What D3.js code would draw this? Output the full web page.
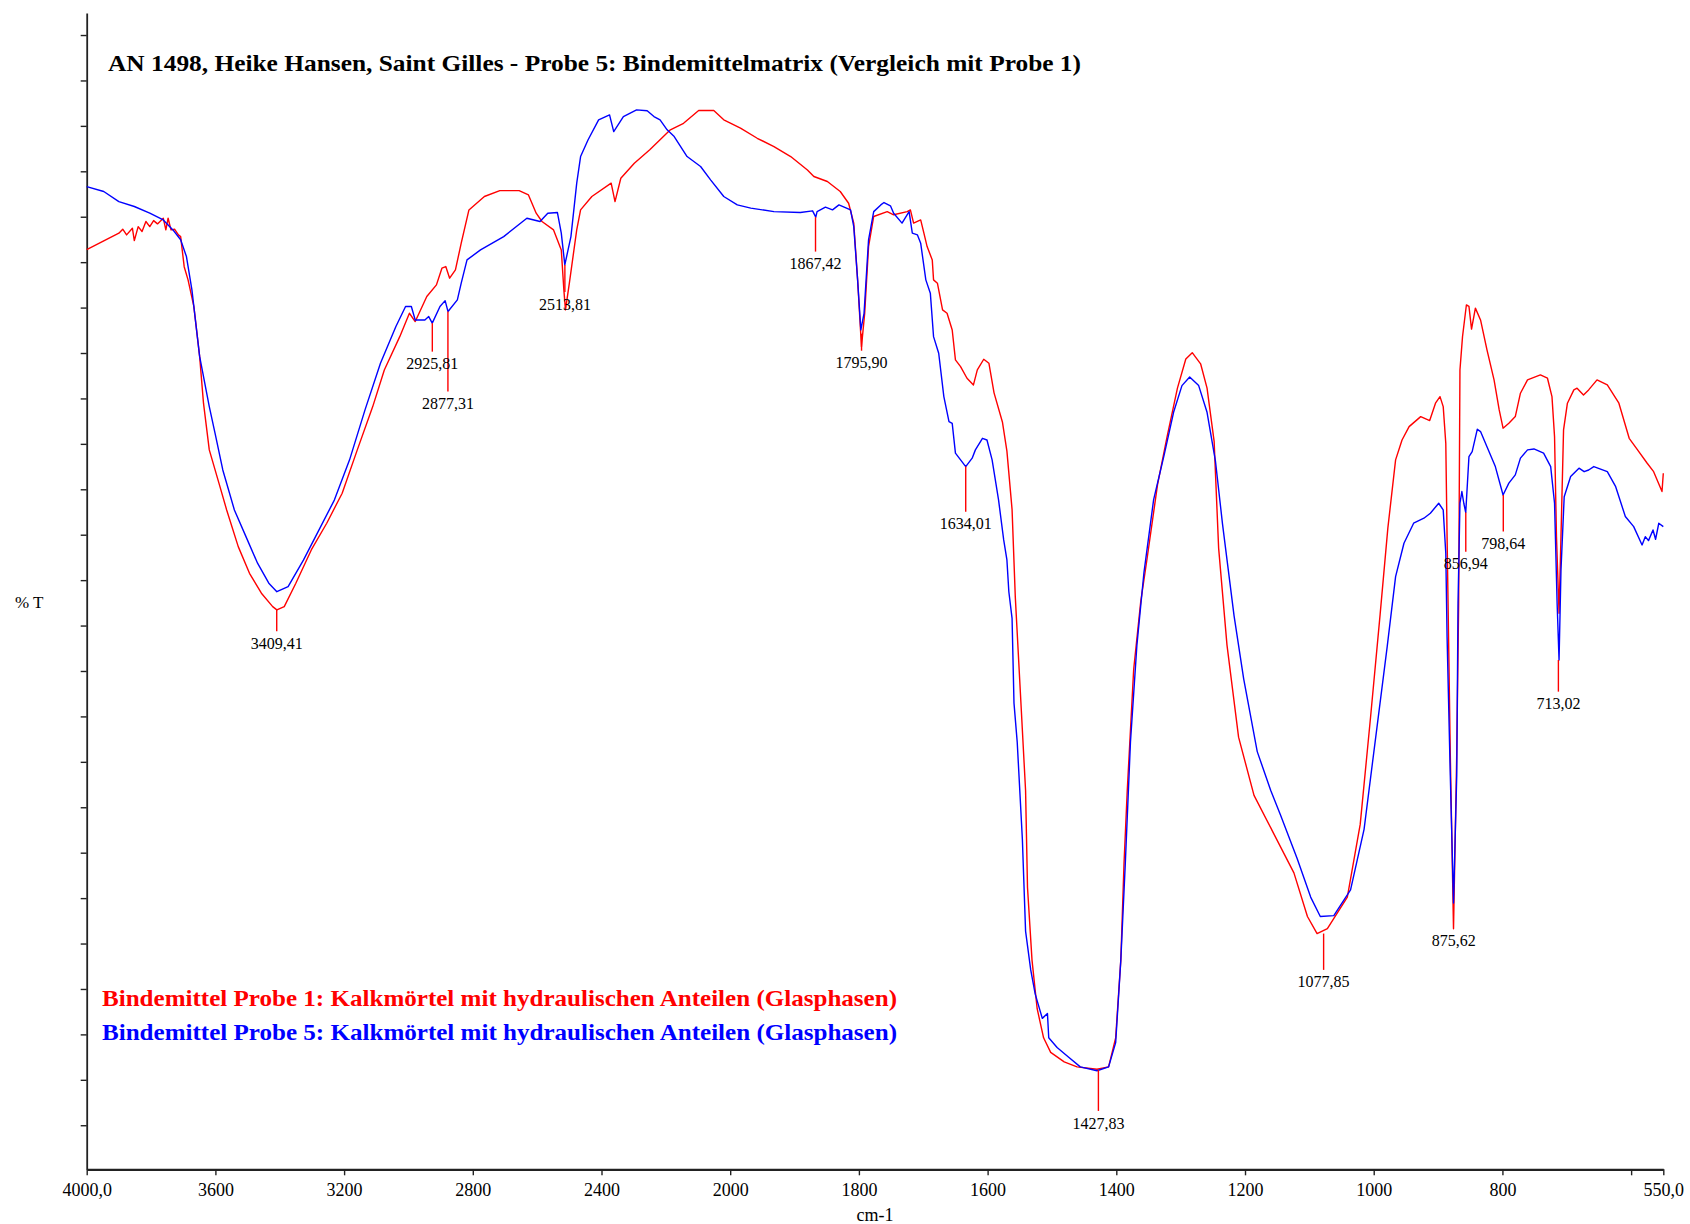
<!DOCTYPE html>
<html>
<head>
<meta charset="utf-8">
<script src="https://cdn.jsdelivr.net/npm/d3@7"></script>
<style>
  html, body { margin: 0; padding: 0; background: #ffffff; }
  svg { display: block; }
</style>
</head>
<body>
<svg id="chart" width="1690" height="1224"></svg>
<script>
// ---------------- DATA ----------------
const titleText = "AN 1498, Heike Hansen, Saint Gilles - Probe 5: Bindemittelmatrix (Vergleich mit Probe 1)";
const legendLabels = [
  "Bindemittel Probe 1: Kalkmörtel mit hydraulischen Anteilen (Glasphasen)",
  "Bindemittel Probe 5: Kalkmörtel mit hydraulischen Anteilen (Glasphasen)"
];
const xAxisTitle = "cm-1";
const yAxisTitle = "% T";

const xTickValues = [4000, 3600, 3200, 2800, 2400, 2000, 1800, 1600, 1400, 1200, 1000, 800, 600, 550];
const xTickLabels = ["4000,0", "3600", "3200", "2800", "2400", "2000", "1800", "1600", "1400", "1200", "1000", "800", "", "550,0"];
const yTickValues = [4, 8, 12, 16, 20, 24, 28, 32, 36, 40, 44, 48, 52, 56, 60, 64, 68, 72, 76, 80, 84, 88, 92, 96, 100];

// Probe 1 (red): [wavenumber cm-1, %T]
const probe1 = [
  [4000,81.1],[3900,82.55],[3888,82.9],[3876,82.4],[3858,82.99],[3852,81.9],[3840,83.13],[3828,82.7],[3816,83.58],[3804,83.13],
  [3792,83.66],[3780,83.37],[3762,83.87],[3754,82.84],[3747,83.87],[3738,82.84],[3727,82.9],[3715,82.4],[3708,82.25],[3697,79.6],
  [3685,78.44],[3667,76.1],[3649,71.7],[3637,67.58],[3619,63.47],[3589,60.54],[3565,58.18],[3529,54.95],[3494,52.6],[3457,50.85],
  [3422,49.67],[3409,49.38],[3386,49.67],[3350,51.73],[3302,54.66],[3254,57.01],[3206,59.65],[3159,63.47],[3111,67.28],[3075,70.51],
  [3027,73.44],[2997,75.5],[2979,74.77],[2967,75.5],[2943,76.97],[2913,78.0],[2896,79.47],[2884,79.61],[2872,78.59],[2854,79.32],
  [2836,81.67],[2812,84.6],[2764,85.78],[2716,86.3],[2656,86.3],[2627,85.92],[2603,84.31],[2585,83.58],[2549,82.84],[2525,81.08],
  [2517,77.56],[2512,75.8],[2500,78.14],[2477,82.84],[2465,84.6],[2430,85.78],[2370,86.96],[2358,85.33],[2340,87.39],[2298,88.71],
  [2250,89.89],[2186,91.65],[2145,92.23],[2098,93.35],[2051,93.35],[2020,92.53],[1984,91.8],[1958,90.91],[1932,90.18],[1906,89.3],
  [1880,88.12],[1870,87.54],[1849,87.1],[1829,86.22],[1816,85.19],[1808,83.44],[1802,78.44],[1796,72.56],[1791,75.5],[1785,81.37],
  [1777,84.02],[1756,84.45],[1746,84.17],[1725,84.45],[1720,84.6],[1715,83.44],[1704,83.72],[1699,82.55],[1694,81.37],[1686,80.2],
  [1684,78.44],[1678,78.15],[1670,75.8],[1663,75.5],[1655,74.03],[1650,71.39],[1642,70.8],[1632,69.78],[1622,69.19],[1616,70.51],
  [1606,71.45],[1598,71.1],[1590,68.49],[1577,65.93],[1570,63.36],[1562,58.23],[1557,50.55],[1549,42.02],[1541,33.48],[1538,24.94],
  [1531,18.54],[1523,14.26],[1513,11.7],[1502,10.42],[1481,9.58],[1461,9.14],[1430,8.93],[1412,9.14],[1401,11.7],[1393,18.54],
  [1388,27.08],[1383,33.48],[1373,44.15],[1362,50.13],[1352,53.97],[1336,60.38],[1321,64.65],[1305,68.91],[1292,71.47],[1282,72.03],
  [1269,71.05],[1259,68.91],[1248,64.22],[1241,54.82],[1228,46.28],[1210,38.17],[1186,33.05],[1155,29.64],[1124,26.22],[1103,22.38],
  [1088,20.88],[1072,21.32],[1041,24.09],[1021,30.49],[1005,39.88],[990,49.01],[978,56.6],[966,62.59],[956,64.34],[945,65.52],
  [927,66.4],[913,66.05],[904,67.58],[897,68.16],[892,67.28],[888,64.06],[886,55.83],[881,36.67],[876,21.3],[871,36.67],
  [868,49.97],[866,70.51],[862,73.44],[856,76.23],[852,76.1],[848,74.1],[842,75.95],[834,74.91],[824,72.28],[813,69.63],
  [805,66.99],[799,65.38],[790,65.81],[780,66.4],[772,68.46],[761,69.63],[741,70.07],[730,69.78],[723,68.16],[719,64.64],
  [716,55.83],[712,49.08],[709,55.83],[705,65.23],[699,67.58],[689,68.75],[684,68.9],[674,68.31],[666,68.75],[653,69.63],
  [637,69.19],[619,67.58],[603,64.49],[590,63.47],[575,62.29],[565,61.55],[552,59.8],[550,61.41]
];

// Probe 5 (blue): [wavenumber cm-1, %T]
const probe5 = [
  [4000,86.65],[3947,86.22],[3900,85.33],[3852,84.9],[3804,84.31],[3762,83.72],[3732,82.84],[3708,81.97],[3690,80.49],[3673,77.56],
  [3649,71.7],[3619,67.28],[3601,64.93],[3577,61.7],[3541,58.18],[3505,55.83],[3469,53.49],[3434,51.73],[3409,50.98],[3374,51.43],
  [3326,53.78],[3278,56.42],[3230,59.07],[3183,62.59],[3135,66.99],[3087,71.1],[3039,74.33],[3009,76.1],[2991,76.1],[2979,74.91],
  [2949,74.91],[2937,75.21],[2926,74.63],[2902,76.1],[2886,76.61],[2877,75.65],[2848,76.68],[2836,78.15],[2818,80.2],[2776,81.08],
  [2704,82.25],[2632,83.87],[2591,83.58],[2567,84.31],[2537,84.37],[2525,82.55],[2514,79.76],[2495,82.25],[2477,86.96],[2465,89.3],
  [2442,90.76],[2409,92.53],[2375,92.97],[2362,91.5],[2332,92.82],[2291,93.41],[2258,93.33],[2237,92.82],[2218,92.53],[2196,91.65],
  [2174,91.06],[2134,89.3],[2092,88.42],[2061,87.25],[2020,85.78],[1989,85.04],[1968,84.76],[1932,84.45],[1891,84.37],[1872,84.52],
  [1867,83.96],[1865,84.45],[1852,84.84],[1841,84.6],[1831,85.04],[1813,84.6],[1808,83.13],[1802,78.44],[1797,74.03],[1792,75.5],
  [1785,81.97],[1777,84.45],[1766,85.04],[1761,85.25],[1751,84.96],[1746,84.31],[1733,83.44],[1722,84.45],[1717,82.55],[1709,82.4],
  [1704,81.67],[1696,78.44],[1689,77.27],[1684,73.44],[1676,71.98],[1668,68.16],[1660,65.96],[1655,65.81],[1650,63.18],[1642,62.59],
  [1634,62.0],[1624,62.74],[1619,63.47],[1608,64.49],[1601,64.34],[1593,62.59],[1583,59.07],[1575,55.54],[1570,53.78],[1567,50.98],
  [1562,48.64],[1559,41.17],[1554,37.75],[1546,29.21],[1541,21.1],[1533,17.68],[1526,15.55],[1515,13.41],[1507,13.84],[1505,11.7],
  [1492,10.85],[1474,9.99],[1456,9.14],[1430,8.8],[1412,9.14],[1401,11.27],[1393,18.54],[1386,27.08],[1378,37.75],[1368,46.28],
  [1357,52.69],[1342,59.09],[1326,62.94],[1311,66.78],[1298,69.13],[1286,69.89],[1272,69.13],[1259,66.78],[1246,62.51],[1235,56.96],
  [1217,48.85],[1202,43.29],[1181,36.9],[1160,33.48],[1145,31.35],[1119,27.49],[1098,24.09],[1083,22.38],[1062,22.46],[1036,24.72],
  [1015,30.06],[995,39.02],[979,46.16],[966,52.31],[953,55.25],[938,57.01],[922,57.45],[912,57.89],[899,58.77],[892,58.18],
  [888,54.37],[886,47.02],[881,34.77],[876,23.57],[871,34.77],[869,49.97],[866,58.77],[863,59.8],[860,58.77],[857,57.95],
  [852,62.88],[847,63.32],[839,65.29],[834,65.08],[824,63.75],[811,62.0],[799,59.5],[790,60.54],[780,61.27],[772,62.74],
  [761,63.47],[751,63.55],[736,63.18],[725,62.0],[719,58.77],[715,49.97],[712,44.97],[709,52.9],[704,59.35],[694,61.12],
  [681,61.86],[673,61.55],[666,61.7],[658,62.0],[637,61.55],[624,60.23],[609,57.6],[596,56.71],[583,55.1],[578,55.83],
  [573,55.48],[566,56.42],[562,55.6],[557,57.01],[550,56.71]
];

// Peak markers
const peakWavenumbers = [3409.41, 2925.81, 2877.31, 2513.81, 1867.42, 1795.90, 1634.01, 1427.83, 1077.85, 875.62, 856.94, 798.64, 713.02];
const peakLabels = ["3409,41", "2925,81", "2877,31", "2513,81", "1867,42", "1795,90", "1634,01", "1427,83", "1077,85", "875,62", "856,94", "798,64", "713,02"];
const peakTop    = [49.38, 74.63, 75.65, 79.76, 83.96, 73.7, 62.0, 8.86, 20.88, 21.3, 57.95, 59.5, 44.97];
const peakBottom = [47.49, 72.12, 68.6, 77.38, 80.93, 72.2, 58.03, 5.26, 17.68, 21.3, 54.51, 56.28, 42.18];

// ---------------- DRAW ----------------
const FONT = "'Liberation Serif', 'Times New Roman', Times, serif";
const svg = d3.select("#chart");

const x = d3.scaleLinear().domain([4000, 2000, 550]).range([86.7, 730.2, 1663.3]);
const y = d3.scaleLinear().domain([0.12, 101.94]).range([1169.3, 13]);

// Axes
const yAxis = d3.axisLeft(y).tickValues(yTickValues).tickFormat("").tickSize(6).tickSizeOuter(0);
const gy = svg.append("g").attr("transform", "translate(86.7,0)").call(yAxis);
gy.select(".domain").attr("stroke", "#222").attr("stroke-width", 1.8);
gy.selectAll(".tick line").attr("stroke", "#222").attr("stroke-width", 1.4);

const xAxis = d3.axisBottom(x).tickValues(xTickValues)
  .tickFormat((d, i) => xTickLabels[i]).tickSize(6).tickSizeOuter(0);
const gx = svg.append("g").attr("transform", "translate(0,1169.3)").call(xAxis);
gx.select(".domain").attr("stroke", "#222").attr("stroke-width", 2.2);
gx.selectAll(".tick line").attr("stroke", "#222").attr("stroke-width", 1.4);
gx.selectAll(".tick text")
  .attr("font-family", FONT).attr("font-size", 18).attr("fill", "#000")
  .attr("y", 14).attr("dy", "0.71em");

// Axis titles
svg.append("text").attr("x", 875).attr("y", 1221).attr("text-anchor", "middle")
  .attr("font-family", FONT).attr("font-size", 18).attr("fill", "#000").text(xAxisTitle);
svg.append("text").attr("x", 15).attr("y", 608).attr("text-anchor", "start")
  .attr("font-family", FONT).attr("font-size", 17).attr("fill", "#000").text(yAxisTitle);

// Title
svg.append("text").attr("x", 108).attr("y", 71)
  .attr("font-family", FONT).attr("font-size", 24).attr("font-weight", "bold").attr("fill", "#000")
  .attr("textLength", 973).attr("lengthAdjust", "spacingAndGlyphs")
  .text(titleText);

// Curves
const line = d3.line().x(d => x(d[0])).y(d => y(d[1]));
svg.append("path").datum(probe1).attr("d", line)
  .attr("fill", "none").attr("stroke", "#ff0000").attr("stroke-width", 1.4).attr("stroke-linejoin", "round");
svg.append("path").datum(probe5).attr("d", line)
  .attr("fill", "none").attr("stroke", "#0000ff").attr("stroke-width", 1.4).attr("stroke-linejoin", "round");

// Peak markers
const peaks = peakWavenumbers.map((w, i) => ({ w, label: peakLabels[i], top: peakTop[i], bottom: peakBottom[i] }));
const pg = svg.append("g");
pg.selectAll("line").data(peaks).join("line")
  .attr("x1", d => x(d.w)).attr("x2", d => x(d.w))
  .attr("y1", d => y(d.top)).attr("y2", d => y(d.bottom))
  .attr("stroke", "#ff0000").attr("stroke-width", 1.4);
pg.selectAll("text").data(peaks).join("text")
  .attr("x", d => x(d.w)).attr("y", d => y(d.bottom) + 12).attr("dy", "0.35em")
  .attr("text-anchor", "middle").attr("font-family", FONT).attr("font-size", 16).attr("fill", "#000")
  .text(d => d.label);

// Legend
const legendColors = ["#ff0000", "#0000ff"];
svg.append("g").selectAll("text").data(legendLabels).join("text")
  .attr("x", 102).attr("y", (d, i) => 1006 + i * 34)
  .attr("font-family", FONT).attr("font-size", 24).attr("font-weight", "bold")
  .attr("textLength", 795).attr("lengthAdjust", "spacingAndGlyphs")
  .attr("fill", (d, i) => legendColors[i]).text(d => d);
</script>
</body>
</html>
